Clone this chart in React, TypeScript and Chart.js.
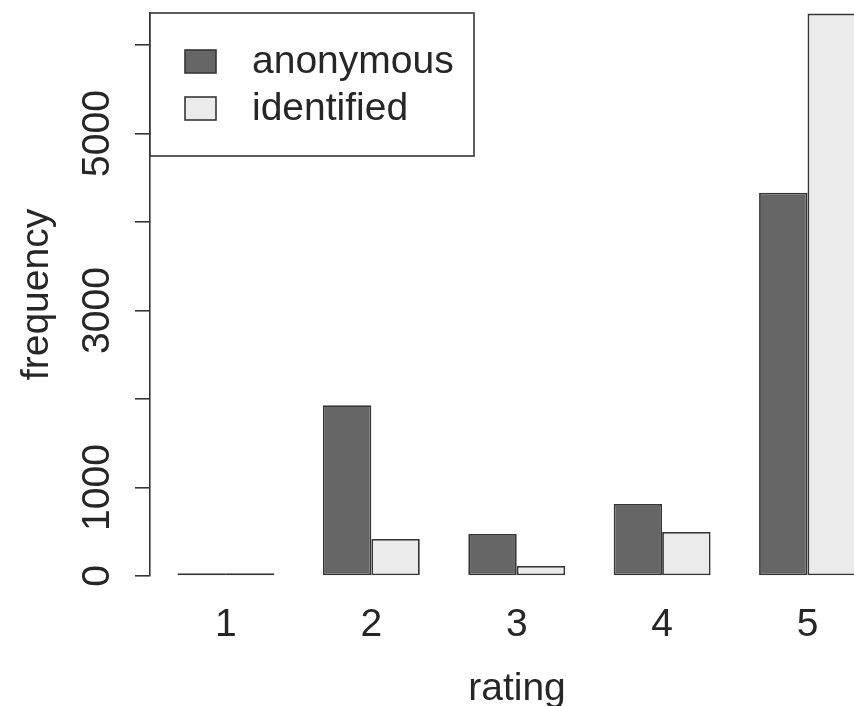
import React, { useEffect, useRef } from "react";
import { Chart, registerables } from "chart.js";

Chart.register(...registerables);

const categories = ["1", "2", "3", "4", "5"];
const anonymous = [32, 1930, 475, 815, 4330];
const identified = [30, 418, 113, 497, 6355];
const seriesNames = ["anonymous", "identified"];
const yTicks = [0, 1000, 2000, 3000, 4000, 5000, 6000];
const yLabelled = [0, 1000, 3000, 5000];
const xTitle = "rating";
const yTitle = "frequency";

const FONT_FAMILY = '"Liberation Sans", Arial, Helvetica, sans-serif';
const TEXT = "#262626";
const LINE = "#363636";

const legendBoxPlugin = {
  id: "legendBox",
  afterDraw(chart: any) {
    const ctx = chart.ctx;
    const left = chart.chartArea.left;
    const top = chart.chartArea.top;
    ctx.save();
    ctx.fillStyle = "#ffffff";
    ctx.strokeStyle = LINE;
    ctx.lineWidth = 1.6;
    ctx.fillRect(left, top, 324, 143);
    ctx.strokeRect(left, top, 324, 143);
    ctx.font = `39px ${FONT_FAMILY}`;
    ctx.textBaseline = "alphabetic";
    ctx.textAlign = "left";
    chart.data.datasets.forEach((ds: any, i: number) => {
      const y = top + 37 + i * 47;
      ctx.fillStyle = ds.backgroundColor;
      ctx.fillRect(left + 35, y, 31, 23);
      ctx.strokeStyle = ds.borderColor;
      ctx.lineWidth = 1.6;
      ctx.strokeRect(left + 35, y, 31, 23);
      ctx.fillStyle = TEXT;
      ctx.fillText(ds.label, left + 102, y + 23);
    });
    ctx.restore();
  },
};

export default function App() {
  const ref = useRef<HTMLCanvasElement | null>(null);

  useEffect(() => {
    if (!ref.current) return;
    const xs = categories.map((_, i) => i + 1);
    const chart = new Chart(ref.current, {
      type: "bar",
      data: {
        datasets: [
          {
            label: seriesNames[0],
            data: xs.map((x, i) => ({ x, y: anonymous[i] })),
            backgroundColor: "#666666",
            borderColor: LINE,
            borderWidth: 1.8,
            borderSkipped: false,
            categoryPercentage: 2 / 3,
            barPercentage: 1,
            clip: false,
          },
          {
            label: seriesNames[1],
            data: xs.map((x, i) => ({ x, y: identified[i] })),
            backgroundColor: "#ebebeb",
            borderColor: LINE,
            borderWidth: 1.8,
            borderSkipped: false,
            categoryPercentage: 2 / 3,
            barPercentage: 1,
            clip: false,
          },
        ],
      },
      options: {
        animation: false,
        responsive: false,
        maintainAspectRatio: false,
        devicePixelRatio: 1,
        layout: { padding: { top: 13, left: 0, right: 0, bottom: 0 } },
        plugins: {
          legend: { display: false },
          tooltip: { enabled: false },
        },
        scales: {
          x: {
            type: "linear",
            offset: false,
            min: 0.4777,
            max: 5.526,
            grid: { display: false, drawTicks: false, offset: false },
            border: { display: false },
            afterBuildTicks: (scale: any) => {
              scale.ticks = xs.map((v) => ({ value: v }));
            },
            afterFit: (scale: any) => {
              scale.height = 130;
              scale.paddingLeft = 0;
              scale.paddingRight = 0;
            },
            ticks: {
              color: TEXT,
              font: { family: FONT_FAMILY, size: 39, lineHeight: 1.1 },
              padding: 28,
              maxRotation: 0,
              minRotation: 0,
              autoSkip: false,
              callback: (v: any) => categories[Math.round(Number(v)) - 1] ?? "",
            },
            title: {
              display: true,
              text: xTitle,
              color: TEXT,
              font: { family: FONT_FAMILY, size: 39, lineHeight: 1.1 },
              padding: { top: 0, bottom: -5 },
            },
          },
          y: {
            min: 0,
            max: 6362,
            grid: {
              display: true,
              drawOnChartArea: false,
              drawTicks: true,
              tickLength: 15,
              color: LINE,
              lineWidth: 1.6,
            },
            border: { display: true, color: LINE, width: 1.6 },
            afterBuildTicks: (scale: any) => {
              scale.ticks = yTicks.map((v) => ({ value: v }));
            },
            afterFit: (scale: any) => {
              scale.width = 150;
              scale.paddingTop = 0;
              scale.paddingBottom = 0;
            },
            ticks: {
              color: TEXT,
              font: { family: FONT_FAMILY, size: 39, lineHeight: 1.1 },
              minRotation: 90,
              maxRotation: 90,
              crossAlign: "center",
              padding: -7,
              autoSkip: false,
              callback: (v: any) => (yLabelled.includes(Number(v)) ? String(v) : ""),
            },
            title: {
              display: true,
              text: yTitle,
              color: TEXT,
              font: { family: FONT_FAMILY, size: 39, lineHeight: 1.1 },
              padding: { top: 16, bottom: 0 },
            },
          },
        },
      },
      plugins: [legendBoxPlugin],
    } as any);
    return () => chart.destroy();
  }, []);

  return (
    <div style={{ position: "absolute", left: 0, top: 0, width: 854, height: 706, background: "#fff", overflow: "hidden" }}>
      <canvas ref={ref} width={884} height={706} style={{ display: "block" }} />
    </div>
  );
}
